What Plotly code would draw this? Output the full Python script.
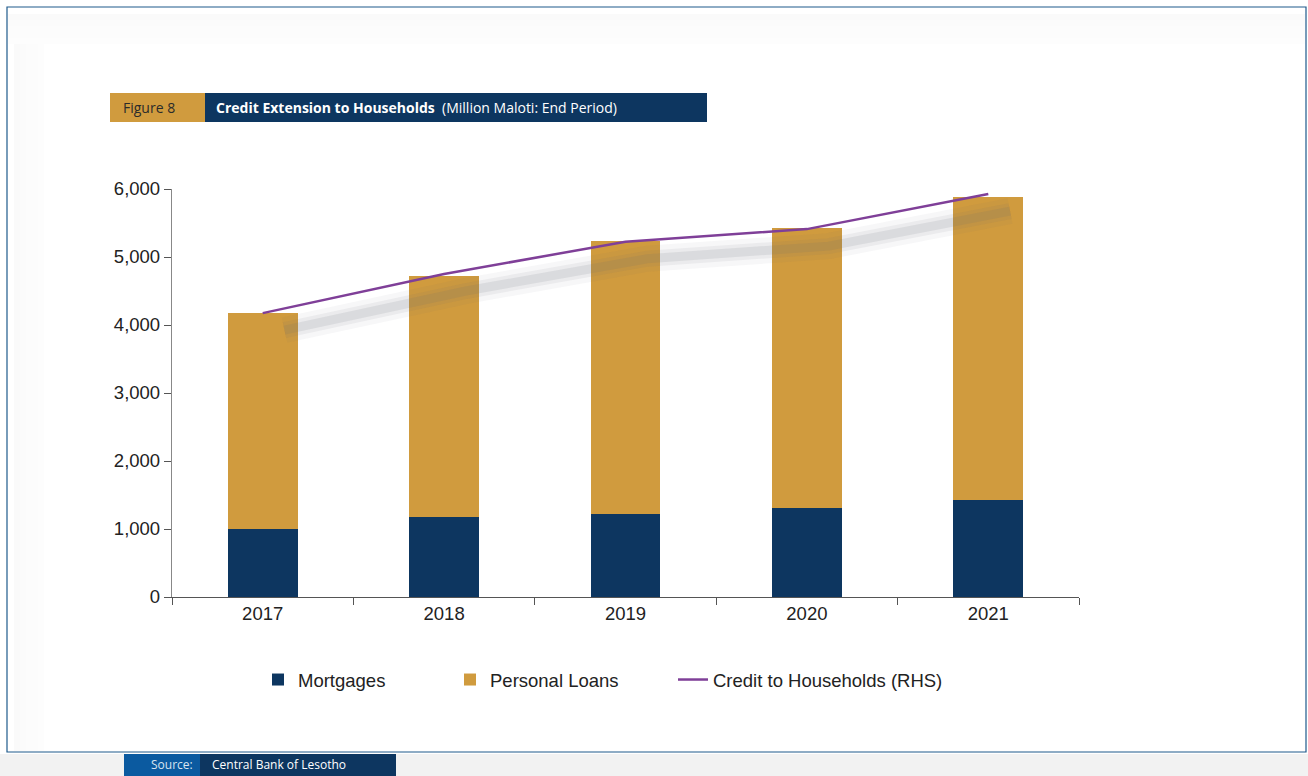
import plotly.graph_objects as go

years = ["2017", "2018", "2019", "2020", "2021"]
mortgages = [1000, 1175, 1220, 1310, 1425]
personal_loans = [3175, 3545, 4015, 4115, 4455]
credit_households = [4175, 4750, 5225, 5410, 5925]

NAVY = "#0d3660"
GOLD = "#d09b3e"
PURPLE = "#7f3f98"

W, H = 1308, 776
L, R, T, B = 172, 1079, 189, 597


def px(x):
    return (x - L) / (R - L)


def py(y):
    return (B - y) / (B - T)


fig = go.Figure()

fig.add_bar(x=years, y=mortgages, name="Mortgages", marker_color=NAVY,
            marker_line_width=0, width=0.385, legend="legend")
fig.add_bar(x=years, y=personal_loans, name="Personal Loans", marker_color=GOLD,
            marker_line_width=0, width=0.385, legend="legend2")

# soft drop shadow under the line
shadow_x = [i + 0.12 for i in range(len(years))]
shadow_y = [v - 250 for v in credit_households]
for w, a in [(26, 0.05), (16, 0.08), (9, 0.12)]:
    fig.add_scatter(x=shadow_x, y=shadow_y, mode="lines", xaxis="x2",
                    line=dict(color=f"rgba(100,105,115,{a})", width=w),
                    showlegend=False, hoverinfo="skip")

fig.add_scatter(x=years, y=credit_households, name="Credit to Households (RHS)",
                mode="lines", line=dict(color=PURPLE, width=2.5), legend="legend3")

shapes = []
# faint inner shadow of the page panel (top and left edges)
for i, a in enumerate([0.035, 0.03, 0.025, 0.02, 0.012]):
    d = 6 * i
    shapes.append(dict(type="rect", xref="paper", yref="paper",
                       x0=px(8), x1=px(1305), y0=py(14 + d + 6), y1=py(14 + d),
                       line_width=0, fillcolor=f"rgba(120,125,125,{a})", layer="below"))
    shapes.append(dict(type="rect", xref="paper", yref="paper",
                       x0=px(14 + d), x1=px(14 + d + 6), y0=py(751), y1=py(44),
                       line_width=0, fillcolor=f"rgba(120,125,125,{a})", layer="below"))
shapes += [
    # outer frame
    dict(type="rect", xref="paper", yref="paper", x0=px(7), x1=px(1306),
         y0=py(752), y1=py(7), line=dict(color="#1f5a8c", width=1.2),
         fillcolor="rgba(0,0,0,0)", layer="below"),
    dict(type="rect", xref="paper", yref="paper", x0=px(0), x1=px(1308),
         y0=py(776), y1=py(754), line_width=0, fillcolor="#f2f2f2", layer="below"),
    # header
    dict(type="rect", xref="paper", yref="paper", x0=px(110), x1=px(205),
         y0=py(122), y1=py(93), line_width=0, fillcolor=GOLD),
    dict(type="rect", xref="paper", yref="paper", x0=px(205), x1=px(707),
         y0=py(122), y1=py(93), line_width=0, fillcolor=NAVY),
    # source bar
    dict(type="rect", xref="paper", yref="paper", x0=px(124), x1=px(200),
         y0=py(776), y1=py(754), line_width=0, fillcolor="#0b5aa0"),
    dict(type="rect", xref="paper", yref="paper", x0=px(200), x1=px(396),
         y0=py(776), y1=py(754), line_width=0, fillcolor=NAVY),
]

annotations = [
    dict(text="Figure 8", xref="paper", yref="paper", x=px(121), y=py(107.5),
         xanchor="left", yanchor="middle", showarrow=False,
         font=dict(family="Open Sans", size=14, color="#2b2b2b")),
    dict(text="<b>Credit Extension to Households</b>  (Million Maloti: End Period)",
         xref="paper", yref="paper", x=px(214), y=py(107.5),
         xanchor="left", yanchor="middle", showarrow=False,
         font=dict(family="Open Sans", size=14, color="white")),
    dict(text="Source:", xref="paper", yref="paper", x=px(195), y=py(764),
         xanchor="right", yanchor="middle", showarrow=False,
         font=dict(family="Open Sans", size=12, color="#d8e4f0")),
    dict(text="Central Bank of Lesotho", xref="paper", yref="paper", x=px(210), y=py(764),
         xanchor="left", yanchor="middle", showarrow=False,
         font=dict(family="Open Sans", size=12, color="white")),
]

leg = dict(orientation="h", yanchor="middle", xanchor="left", y=py(680),
           font=dict(size=18.5, color="#222"), itemwidth=30, bgcolor="rgba(0,0,0,0)")

fig.update_layout(
    width=W, height=H,
    margin=dict(l=L, r=W - R, t=T, b=H - B, pad=0),
    paper_bgcolor="white", plot_bgcolor="rgba(0,0,0,0)",
    barmode="stack", bargap=0.615,
    font=dict(family="Liberation Sans, Arial, sans-serif", size=18, color="#222"),
    xaxis=dict(type="category", tickson="boundaries", ticks="outside", ticklen=7,
               tickcolor="#555", showline=True, linecolor="#555", linewidth=1.3,
               showgrid=False, tickfont=dict(size=18.5), range=[-0.5, 4.5]),
    xaxis2=dict(overlaying="x", range=[-0.5, 4.5], visible=False),
    yaxis=dict(range=[0, 6000], tickvals=[0, 1000, 2000, 3000, 4000, 5000, 6000],
               tickformat=",", ticks="outside", ticklen=7, tickcolor="#555",
               showline=True, linecolor="#888", linewidth=1.3, showgrid=False,
               zeroline=False, tickfont=dict(size=18.5)),
    legend=dict(leg, x=px(258)),
    legend2=dict(leg, x=px(450)),
    legend3=dict(leg, x=px(673)),
    shapes=shapes, annotations=annotations,
)

fig.write_html("out.html", config={"displayModeBar": False},
               post_script="document.body.style.margin='0px';")
